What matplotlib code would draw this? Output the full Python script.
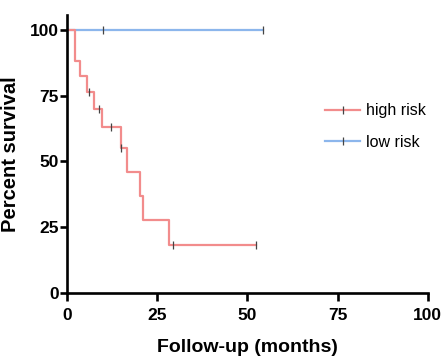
import numpy as np
import matplotlib.pyplot as plt

plt.rcParams['font.family'] = ['Liberation Sans', 'DejaVu Sans']

# high risk group: step times and survival (%)
high_time = [0, 2.3, 3.7, 5.5, 7.4, 9.7, 14.9, 16.5, 20.2, 21.1, 28.3, 52.4]
high_surv = [100, 88.2, 82.4, 76.5, 70.1, 63.1, 55.2, 46.0, 36.8, 27.6, 18.4, 18.4]
high_cens_t = [6.0, 8.8, 12.3, 15.0, 29.4, 52.4]
high_cens_s = [76.5, 70.1, 63.1, 55.2, 18.4, 18.4]

# low risk group
low_time = [0, 54.3]
low_surv = [100, 100]
low_cens_t = [10.0, 54.3]
low_cens_s = [100, 100]

red = '#f28c8c'
blue = '#8cb6ec'
tickc = '#444444'

fig = plt.figure(figsize=(4.41, 3.64), dpi=100)
ax = fig.add_axes([0.152, 0.195, 0.818, 0.764])

ax.step(low_time, low_surv, where='post', color=blue, lw=1.6)
ax.plot(low_cens_t, low_cens_s, ls='none', marker='|', color=tickc, ms=6, mew=0.9)
ax.step(high_time, high_surv, where='post', color=red, lw=1.6)
ax.plot(high_cens_t, high_cens_s, ls='none', marker='|', color=tickc, ms=6, mew=0.9)

# legend proxies
h1, = ax.plot([], [], color=red, lw=1.6, marker='|', ms=6, mew=0.9, mec=tickc)
h2, = ax.plot([], [], color=blue, lw=1.6, marker='|', ms=6, mew=0.9, mec=tickc)
fig.legend([h1, h2], ['high risk', 'low risk'], loc='center left',
           bbox_to_anchor=(0.737, 0.652), frameon=False, fontsize=11.5,
           handlelength=2.2, handletextpad=0.35, labelspacing=1.05,
           borderaxespad=0, borderpad=0)

ax.set_xlim(0, 100)
ax.set_ylim(0, 105.7)
ax.set_xticks([0, 25, 50, 75, 100])
ax.set_yticks([0, 25, 50, 75, 100])
for s in ['top', 'right']:
    ax.spines[s].set_visible(False)
for s in ['left', 'bottom']:
    ax.spines[s].set_linewidth(1.9)
ax.tick_params(axis='x', width=1.9, length=6, labelsize=12.5, pad=5)
ax.tick_params(axis='y', width=1.9, length=5, labelsize=12.5, pad=1)
for lab in ax.get_xticklabels() + ax.get_yticklabels():
    lab.set_fontweight('bold')

ax.set_xlabel('Follow-up (months)', fontsize=14, fontweight='bold', labelpad=11.5)
ax.set_ylabel('Percent survival', fontsize=14.5, fontweight='bold', labelpad=7)

fig.savefig('out.png', dpi=100)
